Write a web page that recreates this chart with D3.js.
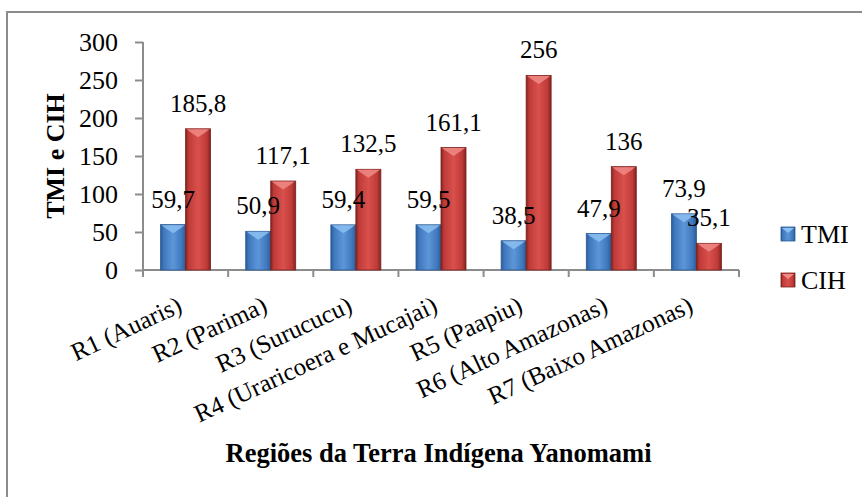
<!DOCTYPE html>
<html>
<head>
<meta charset="utf-8">
<script src="https://cdn.jsdelivr.net/npm/d3@7"></script>
</head>
<body style="margin:0">
<svg id="chart" width="862" height="497"></svg>
<script>
const regions = ["R1 (Auaris)", "R2 (Parima)", "R3 (Surucucu)", "R4 (Uraricoera e Mucajai)",
                 "R5 (Paapiu)", "R6 (Alto Amazonas)", "R7 (Baixo Amazonas)"];
const tmiValues = [59.7, 50.9, 59.4, 59.5, 38.5, 47.9, 73.9];
const cihValues = [185.8, 117.1, 132.5, 161.1, 256, 136, 35.1];
const seriesNames = ["TMI", "CIH"];
const yTicks = [0, 50, 100, 150, 200, 250, 300];

const width = 862, height = 497;
const margin = {left: 143, right: 123, top: 42, bottom: 227};
const AXIS_COLOR = "#8c8c8c";
const FONT = "Liberation Serif";

const svg = d3.select("#chart");

// colours for the two series: dark edge, base, light centre, top facet
const palette = {
    TMI: {dark: "#2a5a94", base: "#3f77bd", light: "#5d96d8", top: "#8cc0f2"},
    CIH: {dark: "#7e2220", base: "#bf3b38", light: "#d9504c", top: "#f08a86"}
};

const defs = svg.append("defs");
seriesNames.forEach(name => {
    const c = palette[name];
    const g = defs.append("linearGradient").attr("id", "grad-" + name)
        .attr("x1", "0").attr("x2", "1").attr("y1", "0").attr("y2", "0");
    g.append("stop").attr("offset", "0%").attr("stop-color", c.dark);
    g.append("stop").attr("offset", "12%").attr("stop-color", c.base);
    g.append("stop").attr("offset", "50%").attr("stop-color", c.light);
    g.append("stop").attr("offset", "85%").attr("stop-color", c.base);
    g.append("stop").attr("offset", "100%").attr("stop-color", c.dark);
});

// outer chart frame
svg.append("rect")
    .attr("x", 7).attr("y", 12)
    .attr("width", width + 20).attr("height", height + 20)
    .attr("fill", "none")
    .attr("stroke", AXIS_COLOR)
    .attr("stroke-width", 2);

const x = d3.scaleBand()
    .domain(regions)
    .range([margin.left, width - margin.right]);

const y = d3.scaleLinear()
    .domain([0, 300])
    .range([height - margin.bottom, margin.top]);

// y axis
const yAxis = svg.append("g")
    .attr("transform", `translate(${margin.left},0)`)
    .call(d3.axisLeft(y).tickValues(yTicks).tickSize(8).tickPadding(17));
yAxis.attr("font-family", FONT).attr("font-size", 26);
yAxis.selectAll("text")
    .attr("font-family", FONT)
    .attr("font-size", 26)
    .attr("fill", "#000");
yAxis.selectAll("line, path").attr("stroke", AXIS_COLOR).attr("stroke-width", 2);
yAxis.select(".domain").attr("d", `M0,${y(300)}V${y(0)}`);

// x axis line with ticks at band boundaries
const xAxisG = svg.append("g");
xAxisG.append("line")
    .attr("x1", x.range()[0]).attr("x2", x.range()[1])
    .attr("y1", y(0)).attr("y2", y(0))
    .attr("stroke", AXIS_COLOR).attr("stroke-width", 2);
const boundaries = regions.map(r => x(r)).concat([x.range()[1]]);
xAxisG.selectAll(".xtick")
    .data(boundaries)
    .join("line")
    .attr("class", "xtick")
    .attr("x1", d => d).attr("x2", d => d)
    .attr("y1", y(0)).attr("y2", y(0) + 7)
    .attr("stroke", AXIS_COLOR).attr("stroke-width", 2);

// category labels, rotated, ending under the category centre
xAxisG.selectAll(".xlabel")
    .data(regions)
    .join("text")
    .attr("class", "xlabel")
    .attr("text-anchor", "end")
    .attr("font-family", FONT)
    .attr("font-size", 25)
    .attr("transform", d => `translate(${x(d) + x.bandwidth() / 2 - 2},${y(0) + 41}) rotate(-25)`)
    .text(d => d);

// bars
const barW = 25;
const inner = d3.scaleBand().domain(seriesNames).range([0, barW * 2]);
const rows = regions.map((r, i) => ({region: r, TMI: tmiValues[i], CIH: cihValues[i]}));
const groupOffset = (x.bandwidth() - barW * 2) / 2;

const barLayer = svg.append("g");
const labelLayer = svg.append("g");

const groups = barLayer.selectAll("g")
    .data(rows)
    .join("g")
    .attr("transform", d => `translate(${x(d.region) + groupOffset},0)`);

seriesNames.forEach(name => {
    const c = palette[name];
    groups.append("rect")
        .attr("x", inner(name))
        .attr("y", d => y(d[name]))
        .attr("width", inner.bandwidth())
        .attr("height", d => y(0) - y(d[name]))
        .attr("fill", `url(#grad-${name})`)
        .attr("stroke", c.dark)
        .attr("stroke-width", 0.8);
    // top chevron facet
    groups.append("path")
        .attr("d", d => {
            const x0 = inner(name) + 1, x1 = inner(name) + inner.bandwidth() - 1;
            const yt = y(d[name]) + 0.5;
            return `M${x0},${yt}L${x1},${yt}L${x1 - 4},${yt + 3}L${(x0 + x1) / 2},${yt + 8}L${x0 + 4},${yt + 3}Z`;
        })
        .attr("fill", c.top)
        .attr("opacity", 0.85);
});

// value labels drawn above all bars
seriesNames.forEach(name => {
    labelLayer.selectAll(".lbl-" + name)
        .data(rows)
        .join("text")
        .attr("class", "lbl-" + name)
        .attr("x", d => x(d.region) + groupOffset + inner(name) + inner.bandwidth() / 2)
        .attr("y", d => y(d[name]) - 17)
        .attr("text-anchor", "middle")
        .attr("font-family", FONT)
        .attr("font-size", 25)
        .text(d => String(d[name]).replace(".", ","));
});

// axis titles
svg.append("text")
    .attr("transform", `translate(64,${(y(0) + y(300)) / 2}) rotate(-90)`)
    .attr("text-anchor", "middle")
    .attr("font-family", FONT)
    .attr("font-size", 26)
    .attr("font-weight", "bold")
    .text("TMI e CIH");

svg.append("text")
    .attr("x", 438.5)
    .attr("y", 462)
    .attr("text-anchor", "middle")
    .attr("font-family", FONT)
    .attr("font-size", 26.5)
    .attr("font-weight", "bold")
    .text("Regiões da Terra Indígena Yanomami");

// legend
const legend = svg.append("g").attr("transform", "translate(781,227)");
const legendItems = legend.selectAll("g")
    .data(seriesNames)
    .join("g")
    .attr("transform", (d, i) => `translate(0,${i * 46})`);
legendItems.append("rect")
    .attr("width", 14).attr("height", 14)
    .attr("fill", d => `url(#grad-${d})`)
    .attr("stroke", d => palette[d].dark)
    .attr("stroke-width", 0.8);
legendItems.append("path")
    .attr("d", "M1,1L13,1L7,6Z")
    .attr("fill", d => palette[d].top);
legendItems.append("text")
    .attr("x", 20)
    .attr("y", 16)
    .attr("font-family", FONT)
    .attr("font-size", 26)
    .text(d => d);
</script>
</body>
</html>
